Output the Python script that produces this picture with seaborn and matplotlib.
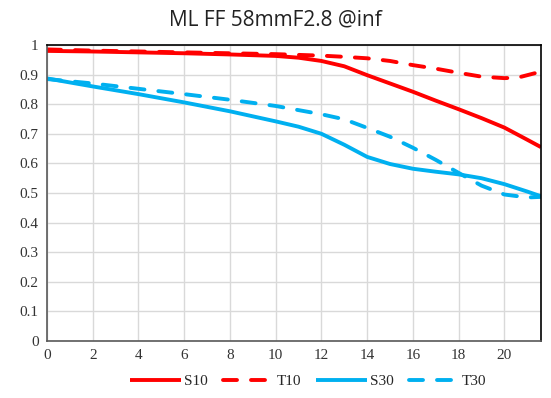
import pandas as pd
import matplotlib.pyplot as plt
import seaborn as sns

# MTF values
x_s10 = [0, 2, 4, 6, 8, 10, 11, 12, 13, 14, 15, 16, 17, 18, 19, 20, 21, 21.6]
s10 = [0.98, 0.978, 0.975, 0.972, 0.968, 0.963, 0.957, 0.946, 0.928, 0.898, 0.870, 0.842, 0.812, 0.783, 0.753, 0.721, 0.680, 0.655]

x_t10 = [0, 2, 4, 6, 8, 10, 12, 13, 14, 15, 16, 17, 18, 19, 20, 20.6, 21.1, 21.6]
t10 = [0.985, 0.981, 0.978, 0.975, 0.972, 0.969, 0.964, 0.960, 0.955, 0.946, 0.932, 0.920, 0.906, 0.893, 0.888, 0.890, 0.900, 0.910]

x_s30 = [0, 2, 4, 6, 8, 10, 11, 12, 13, 14, 15, 16, 17, 18, 19, 20, 21, 21.6]
s30 = [0.887, 0.860, 0.834, 0.806, 0.776, 0.742, 0.724, 0.700, 0.663, 0.622, 0.598, 0.582, 0.572, 0.563, 0.550, 0.530, 0.505, 0.489]

x_t30 = [0, 2, 4, 6, 8, 10, 11, 12, 13, 14, 15, 16, 17, 18, 19, 20, 21, 21.6]
t30 = [0.885, 0.870, 0.852, 0.834, 0.815, 0.794, 0.780, 0.766, 0.749, 0.720, 0.690, 0.653, 0.612, 0.568, 0.525, 0.495, 0.485, 0.487]

series = [("S10", x_s10, s10), ("T10", x_t10, t10), ("S30", x_s30, s30), ("T30", x_t30, t30)]
frames = [pd.DataFrame({"x": xs, "mtf": ys, "curve": name}) for name, xs, ys in series]
df = pd.concat(frames, ignore_index=True)

sns.set_theme(style="whitegrid")
plt.rcParams['font.family'] = ['Liberation Serif', 'DejaVu Serif']

fig = plt.figure(figsize=(5.51, 3.98), dpi=100)
ax = fig.add_axes([0.0853, 0.143, 0.8965, 0.744])

red = '#FF0000'
blue = '#00B0F0'
styles = {"S10": (red, '-'), "T10": (red, '--'), "S30": (blue, '-'), "T30": (blue, '--')}

for name in ["S10", "T10", "S30", "T30"]:
    color, ls = styles[name]
    sub = df[df['curve'] == name]
    line = sns.lineplot(data=sub, x='x', y='mtf', ax=ax, color=color, linewidth=2.8,
                        label=name, sort=True).lines[-1]
    line.set_solid_capstyle('butt')
    if ls == '--':
        line.set_dashes((3.6, 3.6))
        line.set_dash_capstyle('round')

ax.set_xlim(0, 21.6)
ax.set_ylim(0, 1)
ax.set_xticks(range(0, 21, 2))
ax.set_yticks([i / 10 for i in range(11)])
ax.set_yticklabels(['0'] + [f'0.{i}' for i in range(1, 10)] + ['1'])
ax.tick_params(axis='both', labelsize=11, colors='#333333', length=0, pad=6)
ax.grid(True, color='#D9D9D9', linewidth=1)
ax.set_xlabel('')
ax.set_ylabel('')
for side in ['top', 'right']:
    ax.spines[side].set_color('black')
    ax.spines[side].set_linewidth(1.2)
for side in ['left', 'bottom']:
    ax.spines[side].set_color('#595959')
    ax.spines[side].set_linewidth(1.2)

ax.get_legend().remove()
handles, labels = ax.get_legend_handles_labels()
fig.legend(handles, labels, loc='lower center', ncol=4, frameon=False,
           bbox_to_anchor=(0.56, -0.01), fontsize=11, handlelength=3.3,
           columnspacing=1.0, handletextpad=0.2)

fig.suptitle('ML FF 58mmF2.8 @inf', fontsize=15, family=['Open Sans', 'DejaVu Sans'],
             y=0.975, color='#222222')

plt.savefig('out.png', dpi=100)
plt.close()
